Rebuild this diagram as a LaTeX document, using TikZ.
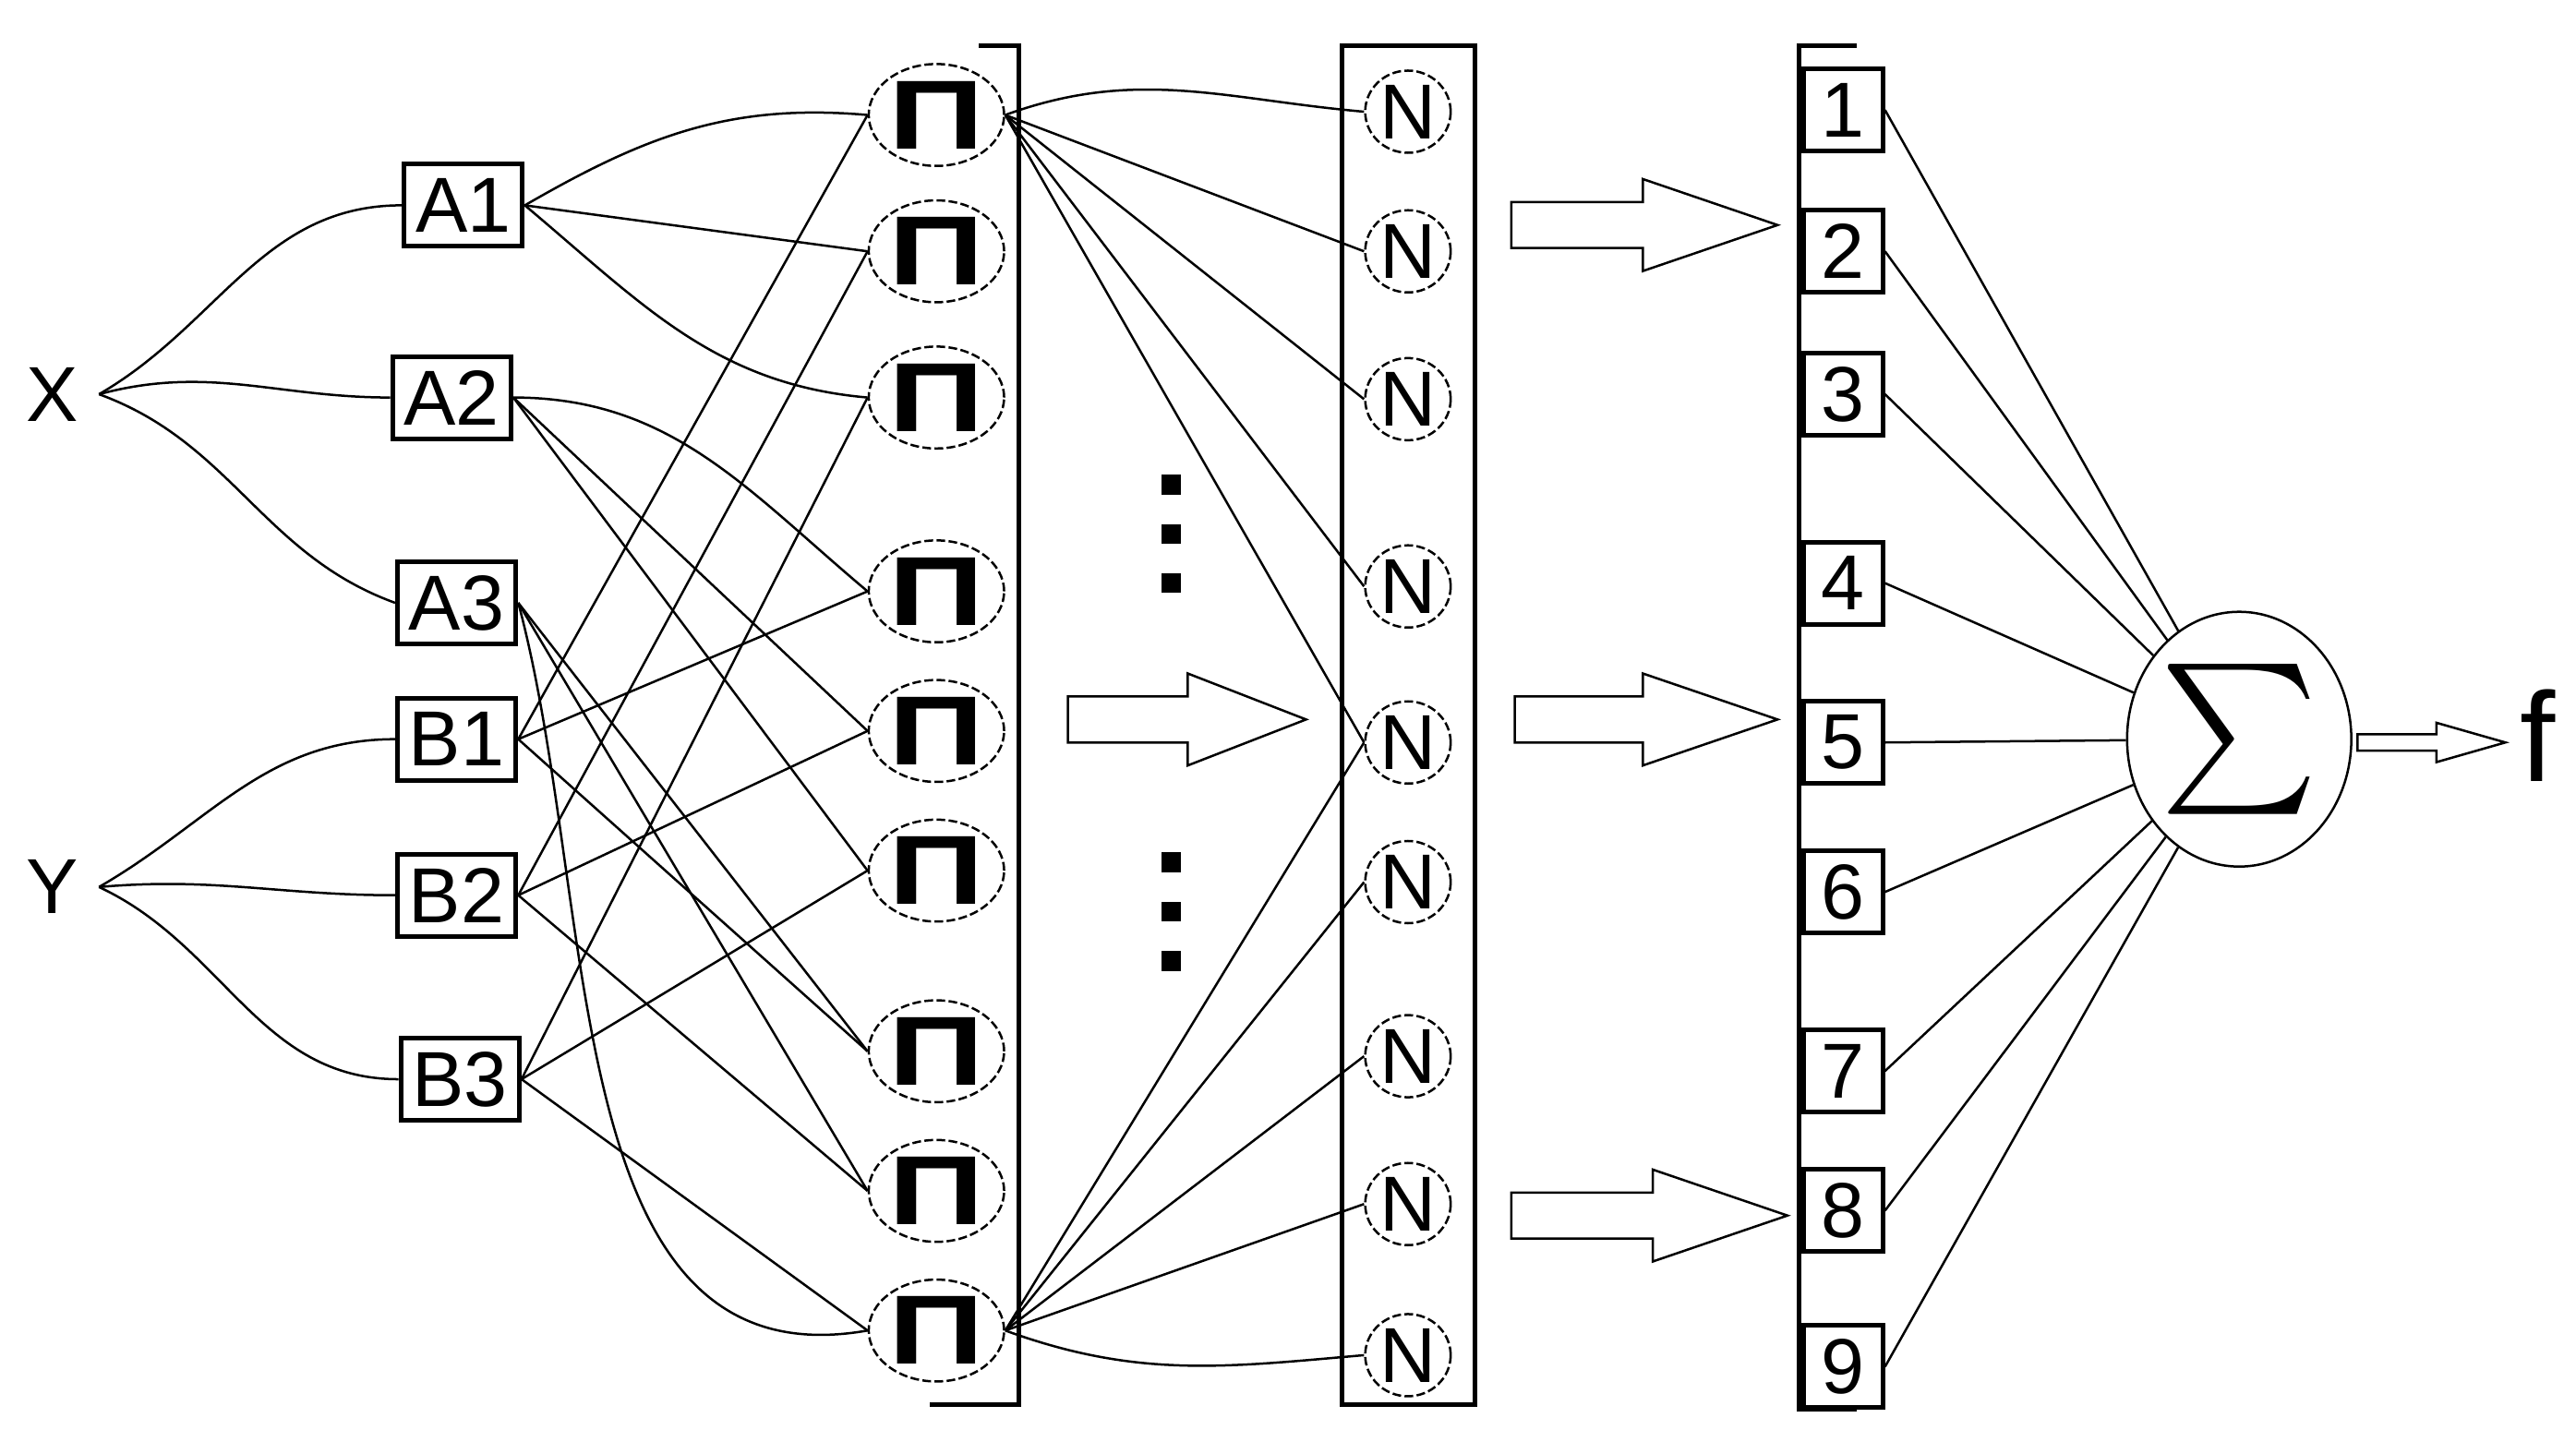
\documentclass[tikz,border=0pt]{standalone}
\usepackage{fontspec}
\setmainfont{Liberation Sans}
\usetikzlibrary{shapes.geometric}
% hollow block arrow: start x, end x, y, shaft half-height, head half-height, head length
\newcommand\hollowarrow[6]{%
  \draw[thin] (#1,#3-#4)--(#2-#6,#3-#4)--(#2-#6,#3-#5)--(#2,#3)--(#2-#6,#3+#5)--(#2-#6,#3+#4)--(#1,#3+#4)--cycle;}
\tikzset{
  lbl/.style={font=\fontsize{13.5}{15}\selectfont},
  var/.style={draw,thick,lbl,inner sep=2pt,minimum height=0.5cm},
  prod/.style={draw,ellipse,dashed,dash pattern=on 1.5pt off 0.6pt,minimum width=0.72cm,minimum height=0.62cm,inner sep=0pt,font=\fontsize{17}{17}\selectfont\bfseries},
  norm/.style={draw,ellipse,dashed,dash pattern=on 1.5pt off 0.6pt,minimum width=0.52cm,minimum height=0.5cm,inner sep=0pt,lbl},
  num/.style={draw,thick,lbl,minimum width=0.48cm,minimum height=0.5cm,inner sep=0pt},
  wire/.style={line width=0.4pt}
}
\begin{document}
\begin{tikzpicture}[x=0.01cm,y=-0.01cm]
  \useasboundingbox (0,0) rectangle (1568,885);
  % inputs
  \node[lbl] (X) at (32,240) {X};
  \node[lbl] (Y) at (32,540) {Y};
  \node[var] (A1) at (282,125) {A1};
  \node[var] (A2) at (275,242) {A2};
  \node[var] (A3) at (278,367) {A3};
  \node[var] (B1) at (278,450) {B1};
  \node[var] (B2) at (278,545) {B2};
  \node[var] (B3) at (280,657) {B3};
  % rule layer
  \foreach \i/\y in {1/70,2/153,3/242,4/360,5/445,6/530,7/640,8/725,9/810}
    \node[prod] (P\i) at (570,\y) {\scalebox{1.35}[1]{Π}};
  \foreach \i/\y in {1/68,2/153,3/243,4/357,5/452,6/537,7/643,8/733,9/825}
    \node[norm] (N\i) at (857,\y) {N};
  \foreach \i/\y in {1/67,2/153,3/240,4/355,5/452,6/543,7/652,8/737,9/832}
    \node[num] (C\i) at (1122,\y) {\i};
  \node[draw,ellipse,minimum width=1.25cm,minimum height=1.55cm,inner sep=0pt] (S) at (1363,450) {\scalebox{2.6}{$\sum$}};
  \node[font=\fontsize{22}{22}\selectfont] (f) at (1545,448) {f};
  % brackets
  \draw[thick] (596,28)--(620,28)--(620,855)--(566,855);
  \draw[thick] (817,28) rectangle (898,855);
  \draw[thick] (1130,28)--(1095,28)--(1095,858)--(1130,858);
  % dots
  \foreach \y in {295,325,355,525,555,585}
    \fill (707,\y-6) rectangle (719,\y+6);
  % block arrows
  \hollowarrow{650}{795}{438}{14}{28}{72}
  \hollowarrow{920}{1082}{137}{14}{28}{82}
  \hollowarrow{922}{1082}{438}{14}{28}{82}
  \hollowarrow{920}{1088}{740}{14}{28}{82}
  \hollowarrow{1435}{1525}{452}{5}{12}{42}
  % fuzzification
  \draw[wire] (X.east) to[out=30,in=180] (A1.west);
  \draw[wire] (X.east) to[out=15,in=180] (A2.west);
  \draw[wire] (X.east) to[out=-20,in=160] (A3.west);
  \draw[wire] (Y.east) to[out=30,in=180] (B1.west);
  \draw[wire] (Y.east) to[out=5,in=180] (B2.west);
  \draw[wire] (Y.east) to[out=-25,in=180] (B3.west);
  % rules
  \draw[wire] (A1.east) to[out=30,in=175] (P1.west);
  \draw[wire] (A1.east) -- (P2.west);
  \draw[wire] (A1.east) to[out=-40,in=175] (P3.west);
  \draw[wire] (A2.east) to[out=0,in=140] (P4.west);
  \draw[wire] (A2.east) -- (P5.west);
  \draw[wire] (A2.east) -- (P6.west);
  \draw[wire] (A3.east) -- (P7.west);
  \draw[wire] (A3.east) -- (P8.west);
  \draw[wire] (A3.east) to[out=-75,in=190] (P9.west);
  \foreach \j in {1,4,7} \draw[wire] (B1.east) -- (P\j.west);
  \foreach \j in {2,5,8} \draw[wire] (B2.east) -- (P\j.west);
  \foreach \j in {3,6,9} \draw[wire] (B3.east) -- (P\j.west);
  % normalisation
  \draw[wire] (P1.east) to[out=20,in=175] (N1.west);
  \foreach \j in {2,3,4,5} \draw[wire] (P1.east) -- (N\j.west);
  \foreach \j in {5,6,7,8} \draw[wire] (P9.east) -- (N\j.west);
  \draw[wire] (P9.east) to[out=-20,in=185] (N9.west);
  % output
  \foreach \j in {1,...,9} \draw[wire] (C\j.east) -- (S);
\end{tikzpicture}
\end{document}
